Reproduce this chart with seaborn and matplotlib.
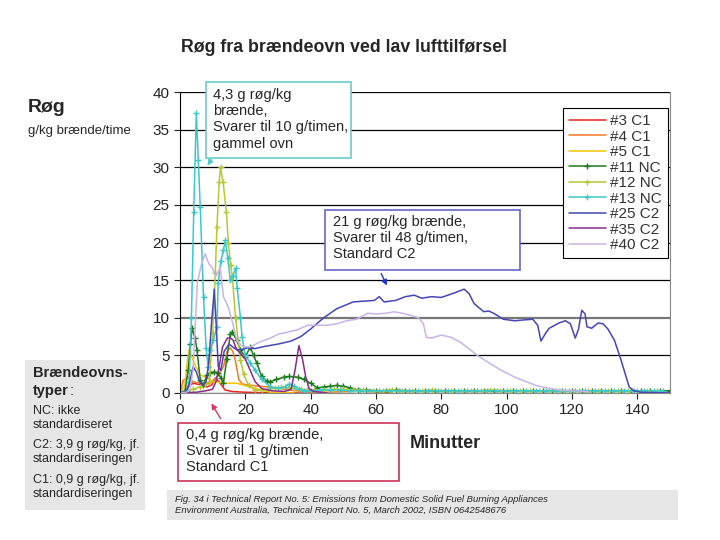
import matplotlib
matplotlib.use("Agg")
import matplotlib.pyplot as plt
import seaborn as sns
from matplotlib.patches import Rectangle, FancyArrowPatch

# --- data (minutes, g/kg brænde/time) ---
C1_3_MIN = [0, 1.5, 2.5, 4, 5, 6.2, 8.3, 9.8, 10.8, 12, 13.8, 16, 20, 30, 45]
C1_3_VAL = [0, 0.3, 0.8, 1.3, 1.2, 1.1, 0.8, 1.1, 2.0, 1.5, 0.4, 0.2, 0.1, 0, 0]

C1_4_MIN = [0, 1, 2.5, 4, 6, 8, 9.2, 11.3, 12.3, 13.3, 14.5, 15.4, 16.2, 17, 18, 19,
            20.5, 24, 27.7, 33, 38, 45, 52, 55, 58, 65]
C1_4_VAL = [0, 1.7, 2.1, 1.5, 1.3, 1.2, 1.3, 2.1, 2.8, 3.5, 5.6, 6.0, 5.5, 4.2, 1.8, 1.2,
            1.1, 0.9, 0.8, 0.4, 0.2, 0.1, 0.2, 0.5, 0.2, 0]

C1_5_MIN = [0, 1.5, 2.3, 2.8, 3.5, 4.6, 6.2, 8.3, 10.2, 13.3, 17.4, 21.5, 25, 27.7, 35]
C1_5_VAL = [0, 1.0, 4.5, 5.8, 5.0, 3.7, 2.4, 2.0, 1.5, 1.3, 1.3, 0.8, 0.4, 0.1, 0]

NC_11_MIN = [0, 1.5, 2.5, 3.2, 3.7, 4.6, 5.2, 6.2, 7.1, 8.3, 9.2, 10.3, 11.7, 12.5, 13.3,
             14.3, 15.4, 16, 17.4, 18.5, 20, 21.5, 22.5, 23.5, 25, 26.5, 27.7, 29.5, 31.7,
             33.5, 36, 38, 40, 42, 44, 46, 48, 50, 52, 54.5]
NC_11_VAL = [0, 0.2, 3.0, 6.5, 8.6, 7.3, 5.7, 1.7, 1.1, 2.4, 2.7, 2.8, 2.7, 2.0, 1.3,
             4.5, 7.8, 8.1, 7.0, 5.7, 4.8, 6.1, 5.0, 4.0, 2.2, 1.6, 1.5, 1.8, 2.1,
             2.2, 2.1, 1.8, 1.3, 0.7, 0.8, 0.9, 1.0, 0.9, 0.7, 0.4]
NC_11_TAIL = [0.4, 0.3, 0.3, 0.4, 0.3, 0.3, 0.3, 0.3, 0.3, 0.3, 0.3, 0.3, 0.3, 0.3, 0.3,
              0.3, 0.3, 0.3, 0.3, 0.3, 0.3, 0.3, 0.3, 0.3, 0.3, 0.3, 0.3, 0.3, 0.3, 0.3,
              0.3, 0.3]

NC_12_MIN = [0, 2, 4, 6, 7.5, 9, 10, 10.8, 11.3, 12, 12.4, 13.2, 14.2, 14.8, 15.5, 16,
             17, 18.5, 19.5, 21, 23, 25, 27, 29, 31, 33, 35, 37, 39]
NC_12_VAL = [0, 0.2, 0.5, 0.8, 1.2, 1.5, 8, 16, 22, 28, 30, 28, 24, 20, 17, 15.5,
             10, 4.4, 2.5, 1.0, 0.4, 0.4, 0.5, 0.6, 0.8, 0.7, 0.6, 0.5, 0.4]
NC_12_TAIL = [0.4, 0.4, 0.5, 0.5, 0.4, 0.4, 0.3, 0.3, 0.4, 0.3, 0.3, 0.3, 0.4, 0.3, 0.3,
              0.3, 0.3, 0.3, 0.4, 0.3, 0.3, 0.3, 0.3, 0.3, 0.3, 0.3, 0.3, 0.3, 0.3, 0.3,
              0.3, 0.3, 0.3, 0.3, 0.3, 0.3]

NC_13_MIN = [0, 2, 2.8, 3.5, 4.2, 5.0, 5.6, 6.2, 7.2, 8.0, 8.6, 9.2, 10.2, 11.3, 11.7,
             12.5, 13.3, 13.9, 14.6, 15.4, 16.2, 17, 17.5, 18.5, 19, 20, 21.5, 23, 25,
             27.7, 30, 32, 33.5, 35, 36.5, 38]
NC_13_VAL = [0, 0.2, 1.5, 10, 24, 37.2, 31, 24.7, 12.7, 6, 3.5, 5.7, 7, 8.8, 14.6,
             17.5, 19, 20.3, 18, 15, 15.5, 16.6, 14, 10, 7.4, 5, 4, 3, 1.8,
             0.8, 0.6, 0.8, 1.2, 0.9, 0.5, 0.3]
NC_13_TAIL = [0.3, 0.4, 0.4, 0.4, 0.3, 0.3, 0.3, 0.3, 0.3, 0.3, 0.3, 0.3, 0.3, 0.3, 0.3,
              0.3, 0.3, 0.3, 0.3, 0.3, 0.3, 0.3, 0.3, 0.3, 0.3, 0.3, 0.3, 0.3, 0.3, 0.3,
              0.3, 0.3, 0.3, 0.3, 0.3, 0.3, 0.3]

C2_25_MIN = [0, 2, 3, 4, 5, 6, 7, 8, 8.8, 9.6, 10.5, 11.2, 11.7, 12.5, 13.5, 15, 16.5,
             17.5, 19, 20.6, 23, 26, 30, 34, 37, 40, 44, 48, 53, 56, 59.5, 61, 62.5, 66,
             69, 71.7, 74, 77, 80, 84, 87, 88.5, 90, 93, 94.5, 96, 99, 102.5, 105, 108,
             109.5, 110.5, 112, 113, 116, 118, 119.5, 121, 122, 123, 124, 124.6, 126, 128,
             129.5, 131, 133, 135, 137.5, 139, 141, 150]
C2_25_VAL = [0, 0.2, 1.5, 3.5, 2.8, 1.5, 1.0, 1.5, 4, 9, 13.8, 8, 3.5, 3.0, 5.5, 6.5, 6.0,
             5.7, 5.8, 6.0, 5.9, 6.2, 6.5, 6.9, 7.5, 8.5, 10, 11.2, 12.1, 12.2, 12.3, 12.8,
             12.1, 12.3, 12.8, 13.0, 12.6, 12.8, 12.7, 13.3, 13.8, 13.2, 11.9, 10.8, 10.9,
             10.6, 9.8, 9.6, 9.7, 9.8, 9.0, 6.9, 8.0, 8.6, 9.3, 9.6, 9.2, 7.3, 8.5, 11,
             10.5, 8.8, 8.6, 9.3, 9.2, 8.5, 7.0, 4.4, 0.8, 0.3, 0.1, 0]

C2_35_MIN = [0, 5, 8, 10, 11, 12, 13, 14.5, 15.5, 16.3, 17, 18, 19, 20, 21.5, 23, 25,
             28, 32, 34, 35.2, 36.4, 37.5, 38.5, 39.5, 41, 45]
C2_35_VAL = [0, 0.1, 0.3, 0.5, 1.5, 3.5, 6.1, 7.3, 7.3, 7.0, 6.1, 5.5, 5.0, 4.5, 3.0,
             1.5, 0.6, 0.3, 0.2, 0.5, 3.0, 6.3, 4.5, 2.1, 0.6, 0.2, 0]

C2_40_MIN = [0, 2, 3, 4, 5.3, 6.5, 7.7, 8.8, 9.8, 11, 12.3, 13.3, 14.8, 16, 17.4, 19,
             21.5, 24, 27.7, 30, 33, 36, 39, 42, 45, 48, 51, 54, 57.5, 60, 63, 65.5, 68,
             70, 73, 74.5, 75.4, 77, 80, 83, 86, 91, 95, 98, 102.5, 106, 109, 112, 116,
             120, 125]
C2_40_VAL = [0, 0.1, 0.5, 3, 14.6, 17, 18.5, 17.2, 16.7, 15.5, 16.7, 12.8, 11.4, 9.5, 7,
             6.2, 6.1, 6.7, 7.3, 7.8, 8.1, 8.4, 9.0, 9.0, 9.0, 9.2, 9.6, 9.8, 10.6, 10.5,
             10.6, 10.8, 10.6, 10.4, 10.0, 9.2, 7.4, 7.3, 7.7, 7.4, 6.7, 5.0, 3.9, 3.1,
             2.1, 1.5, 1.0, 0.7, 0.4, 0.3, 0.2]

X_TICKS = [0, 20, 40, 60, 80, 100, 120, 140]
Y_TICKS = [0, 5, 10, 15, 20, 25, 30, 35, 40]


def fx(px):
    return px / 720


def fy(py):
    return 1 - py / 540


def with_tail(mins, vals, tail, start, step):
    tail_min = [start + step * i for i in range(len(tail))]
    return mins + tail_min, vals + tail


series = [
    ("#3 C1", C1_3_MIN, C1_3_VAL, "#e8251f", None),
    ("#4 C1", C1_4_MIN, C1_4_VAL, "#f47a20", None),
    ("#5 C1", C1_5_MIN, C1_5_VAL, "#f5c400", None),
    ("#11 NC", *with_tail(NC_11_MIN, NC_11_VAL, NC_11_TAIL, 57, 3), "#1e7a1e", "+"),
    ("#12 NC", *with_tail(NC_12_MIN, NC_12_VAL, NC_12_TAIL, 41, 3), "#b8c832", "+"),
    ("#13 NC", *with_tail(NC_13_MIN, NC_13_VAL, NC_13_TAIL, 40, 3), "#3cc8c8", "+"),
    ("#25 C2", C2_25_MIN, C2_25_VAL, "#4545b5", None),
    ("#35 C2", C2_35_MIN, C2_35_VAL, "#8a2a8a", None),
    ("#40 C2", C2_40_MIN, C2_40_VAL, "#c8b4e6", None),
]

sns.set_style("white")
plt.rcParams["font.family"] = ["Liberation Sans", "DejaVu Sans"]

fig = plt.figure(figsize=(7.2, 5.4), dpi=100)
ax = fig.add_axes([fx(180), fy(393), 490 / 720, 301 / 540])

for name, mins, vals, color, marker in series:
    sns.lineplot(x=mins, y=vals, ax=ax, color=color, lw=1.1, marker=marker,
                 markersize=5, markeredgewidth=1, markeredgecolor=color,
                 label=name, estimator=None, sort=False)

ax.set_xlim(0, 150)
ax.set_ylim(0, 40)
ax.set_xticks(X_TICKS)
ax.set_yticks(Y_TICKS)
ax.set_xlabel("")
ax.set_ylabel("")
ax.tick_params(axis="both", direction="out", length=4, width=0.8, labelsize=11,
               colors="#222222", bottom=True, left=True)
ax.set_axisbelow(True)
ax.yaxis.grid(True, color="black", lw=0.9)
for line, tick in zip(ax.get_ygridlines(), Y_TICKS):
    if tick == 10:
        line.set_color("#777777")
        line.set_linewidth(1.6)
ax.spines["top"].set_visible(False)
ax.spines["right"].set_color("#888888")
ax.spines["left"].set_color("black")
ax.spines["bottom"].set_color("#888888")

leg = ax.legend(loc="upper right", bbox_to_anchor=(fx(668), fy(108)),
                bbox_transform=fig.transFigure, fontsize=11, frameon=True,
                fancybox=False, edgecolor="black", framealpha=1, borderpad=0.4,
                labelspacing=0.1, handlelength=2.4, handletextpad=0.3,
                borderaxespad=0)
leg.get_frame().set_linewidth(0.8)
for t in leg.get_texts():
    t.set_color("#333333")

# titles and labels
fig.text(fx(344), fy(47), "Røg fra brændeovn ved lav lufttilførsel", ha="center",
         va="center", fontsize=12.8, fontweight="bold")
fig.text(fx(28), fy(108), "Røg", ha="left", va="center", fontsize=14, fontweight="bold")
fig.text(fx(28), fy(131), "g/kg brænde/time", ha="left", va="center", fontsize=9.5)
fig.text(fx(410), fy(443), "Minutter", ha="left", va="center", fontsize=13,
         fontweight="bold")

# callout boxes
boxes = [
    ((206, 82, 351, 158), "#66cccc", (213, 88),
     "4,3 g røg/kg\nbrænde,\nSvarer til 10 g/timen,\ngammel ovn"),
    ((325, 210, 520, 270), "#6666cc", (333, 215),
     "21 g røg/kg brænde,\nSvarer til 48 g/timen,\nStandard C2"),
    ((178, 423, 399, 481), "#cc3355", (186, 428),
     "0,4 g røg/kg brænde,\nSvarer til 1 g/timen\nStandard C1"),
]
for (x0, y0, x1, y1), ec, (tx, ty), txt in boxes:
    fig.add_artist(Rectangle((fx(x0), fy(y1)), (x1 - x0) / 720, (y1 - y0) / 540,
                             transform=fig.transFigure, fc="white", ec=ec, lw=1.2,
                             zorder=5))
    fig.text(fx(tx), fy(ty), txt, ha="left", va="top", fontsize=10.5,
             linespacing=1.2, zorder=6)

arrows = [
    ((213, 157), (206, 168), "#55c8c8"),
    ((380, 271), (388, 288), "#2233cc"),
    ((222, 421), (210, 401), "#dd3366"),
]
for (x0, y0), (x1, y1), col in arrows:
    fig.add_artist(FancyArrowPatch((fx(x0), fy(y0)), (fx(x1), fy(y1)),
                                   transform=fig.transFigure, arrowstyle="-|>",
                                   mutation_scale=8, color=col, lw=1, zorder=6))

# left info panel
fig.add_artist(Rectangle((fx(25), fy(510)), 120 / 720, 150 / 540,
                         transform=fig.transFigure, fc="#e6e6e6", ec="none", zorder=1))
fig.text(fx(33), fy(373), "Brændeovns-", ha="left", va="center", fontsize=10.5,
         fontweight="bold")
typer = fig.text(fx(33), fy(391), "typer", ha="left", va="center", fontsize=10.5,
                 fontweight="bold")
renderer = fig.canvas.get_renderer()
bb = typer.get_window_extent(renderer=renderer)
fig.text(bb.x1 / fig.bbox.width + 0.001, fy(391), ":", ha="left", va="center",
         fontsize=10.5)
info = [
    (405, "NC: ikke\nstandardiseret"),
    (439, "C2: 3,9 g røg/kg, jf.\nstandardiseringen"),
    (474, "C1: 0,9 g røg/kg, jf.\nstandardiseringen"),
]
for ty, txt in info:
    fig.text(fx(33), fy(ty), txt, ha="left", va="top", fontsize=9, linespacing=1.2)

# source footer
fig.add_artist(Rectangle((fx(167), fy(520)), 511 / 720, 30 / 540,
                         transform=fig.transFigure, fc="#e6e6e6", ec="none", zorder=1))
fig.text(fx(175), fy(505),
         "Fig. 34 i Technical Report No. 5: Emissions from Domestic Solid Fuel Burning Appliances\n"
         "Environment Australia, Technical Report No. 5, March 2002, ISBN 0642548676",
         ha="left", va="center", fontsize=6.8, style="italic", linespacing=1.25)

fig.savefig("out.png", dpi=100)
